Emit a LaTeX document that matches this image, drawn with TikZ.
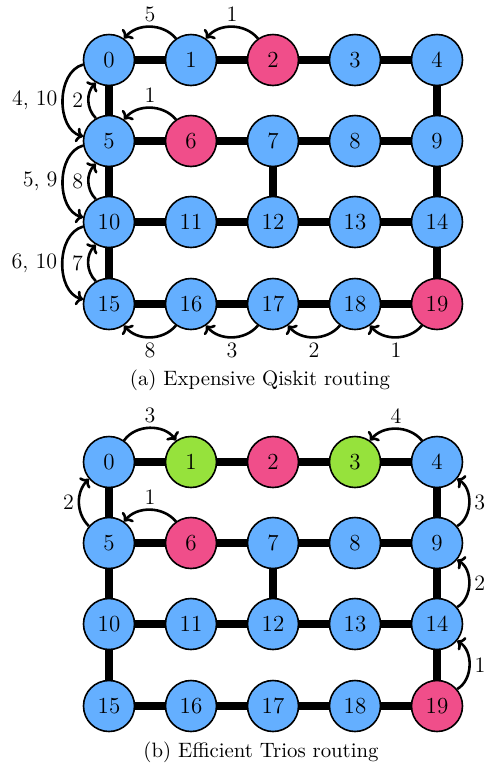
\documentclass[tikz,border=0pt]{standalone}
\usetikzlibrary{arrows, arrows.meta}
\definecolor{qblue}{RGB}{100,175,255}
\definecolor{qpink}{RGB}{240,78,138}
\definecolor{qgreen}{RGB}{150,226,60}

\begin{document}
\begin{tikzpicture}[x=0.5pt, y=-0.5pt,
	qubit/.style={circle, draw=black, line width=0.8pt, minimum size=25.5pt, inner sep=0pt, fill=qblue, font=\fontsize{11.5}{13}\selectfont},
	link/.style={line width=4pt},
	swap/.style={-{To[length=3.5pt, width=7.5pt]}, line width=1.3pt},
	num/.style={inner sep=2pt, font=\fontsize{11}{13}\selectfont}]
	\useasboundingbox (0,0) rectangle (484,772);

	% (a) Expensive Qiskit routing
	\node[qubit] (a0) at (109,60) {0};
	\node[qubit] (a1) at (191,60) {1};
	\node[qubit, fill=qpink] (a2) at (273,60) {2};
	\node[qubit] (a3) at (355,60) {3};
	\node[qubit] (a4) at (437,60) {4};
	\node[qubit] (a5) at (109,141) {5};
	\node[qubit, fill=qpink] (a6) at (191,141) {6};
	\node[qubit] (a7) at (273,141) {7};
	\node[qubit] (a8) at (355,141) {8};
	\node[qubit] (a9) at (437,141) {9};
	\node[qubit] (a10) at (109,222) {10};
	\node[qubit] (a11) at (191,222) {11};
	\node[qubit] (a12) at (273,222) {12};
	\node[qubit] (a13) at (355,222) {13};
	\node[qubit] (a14) at (437,222) {14};
	\node[qubit] (a15) at (109,304) {15};
	\node[qubit] (a16) at (191,304) {16};
	\node[qubit] (a17) at (273,304) {17};
	\node[qubit] (a18) at (355,304) {18};
	\node[qubit, fill=qpink] (a19) at (437,304) {19};
	\draw[link] (a0) -- (a1) -- (a2) -- (a3) -- (a4);
	\draw[link] (a5) -- (a6) -- (a7) -- (a8) -- (a9);
	\draw[link] (a10) -- (a11) -- (a12) -- (a13) -- (a14);
	\draw[link] (a15) -- (a16) -- (a17) -- (a18) -- (a19);
	\draw[link] (a0) -- (a5) -- (a10) -- (a15);
	\draw[link] (a4) -- (a9) -- (a14) -- (a19);
	\draw[link] (a7) -- (a12);
	% swaps
	\draw[swap] (a1.125) to[bend right=50] node[num, above] {5} (a0.55);
	\draw[swap] (a2.125) to[bend right=50] node[num, above] {1} (a1.55);
	\draw[swap] (a6.125) to[bend right=50] node[num, above] {1} (a5.55);
	\draw[swap] (a0.190) to[bend right=75] node[num, left] {4, 10} (a5.170);
	\draw[swap] (a5.120) to[bend left=45] node[num, left] {2} (a0.240);
	\draw[swap] (a5.190) to[bend right=75] node[num, left] {5, 9} (a10.170);
	\draw[swap] (a10.120) to[bend left=45] node[num, left] {8} (a5.240);
	\draw[swap] (a10.190) to[bend right=75] node[num, left] {6, 10} (a15.170);
	\draw[swap] (a15.120) to[bend left=45] node[num, left] {7} (a10.240);
	\draw[swap] (a16.235) to[bend left=50] node[num, below] {8} (a15.305);
	\draw[swap] (a17.235) to[bend left=50] node[num, below] {3} (a16.305);
	\draw[swap] (a18.235) to[bend left=50] node[num, below] {2} (a17.305);
	\draw[swap] (a19.235) to[bend left=50] node[num, below] {1} (a18.305);
	\node[font=\fontsize{10.4}{12}\selectfont] (capa) at (260,380) {(a) Expensive Qiskit routing};

	% (b) Efficient Trios routing
	\node[qubit] (b0) at (109,462) {0};
	\node[qubit, fill=qgreen] (b1) at (191,462) {1};
	\node[qubit, fill=qpink] (b2) at (273,462) {2};
	\node[qubit, fill=qgreen] (b3) at (355,462) {3};
	\node[qubit] (b4) at (437,462) {4};
	\node[qubit] (b5) at (109,543) {5};
	\node[qubit, fill=qpink] (b6) at (191,543) {6};
	\node[qubit] (b7) at (273,543) {7};
	\node[qubit] (b8) at (355,543) {8};
	\node[qubit] (b9) at (437,543) {9};
	\node[qubit] (b10) at (109,624) {10};
	\node[qubit] (b11) at (191,624) {11};
	\node[qubit] (b12) at (273,624) {12};
	\node[qubit] (b13) at (355,624) {13};
	\node[qubit] (b14) at (437,624) {14};
	\node[qubit] (b15) at (109,706) {15};
	\node[qubit] (b16) at (191,706) {16};
	\node[qubit] (b17) at (273,706) {17};
	\node[qubit] (b18) at (355,706) {18};
	\node[qubit, fill=qpink] (b19) at (437,706) {19};
	\draw[link] (b0) -- (b1) -- (b2) -- (b3) -- (b4);
	\draw[link] (b5) -- (b6) -- (b7) -- (b8) -- (b9);
	\draw[link] (b10) -- (b11) -- (b12) -- (b13) -- (b14);
	\draw[link] (b15) -- (b16) -- (b17) -- (b18) -- (b19);
	\draw[link] (b0) -- (b5) -- (b10) -- (b15);
	\draw[link] (b4) -- (b9) -- (b14) -- (b19);
	\draw[link] (b7) -- (b12);
	% swaps
	\draw[swap] (b0.55) to[bend left=55] node[num, above] {3} (b1.125);
	\draw[swap] (b4.125) to[bend right=50] node[num, above] {4} (b3.55);
	\draw[swap] (b6.125) to[bend right=50] node[num, above] {1} (b5.55);
	\draw[swap] (b5.140) to[bend left=45] node[num, left] {2} (b0.220);
	\draw[swap] (b9.40) to[bend right=60] node[num, right] {3} (b4.320);
	\draw[swap] (b14.40) to[bend right=60] node[num, right] {2} (b9.320);
	\draw[swap] (b19.40) to[bend right=60] node[num, right] {1} (b14.320);
	\node[font=\fontsize{10.4}{12}\selectfont] (capb) at (261,752) {(b) Efficient Trios routing};
\end{tikzpicture}
\end{document}
